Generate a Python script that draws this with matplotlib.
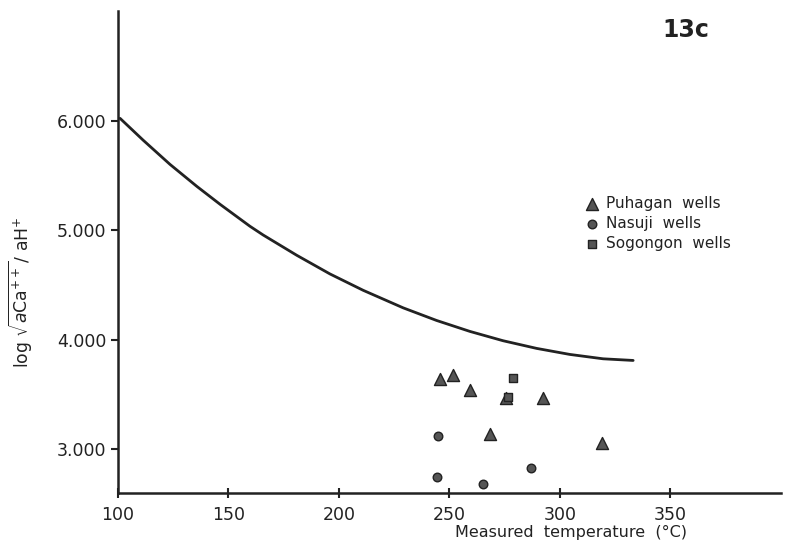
import matplotlib
matplotlib.use("Agg")
import matplotlib.pyplot as plt

# Equilibrium curve
curve_t = [100.9, 111.4, 123.5, 135.6, 146.2, 159.7, 165.7, 180.9, 195.9, 211.0,
           229.1, 244.2, 259.3, 274.3, 289.5, 304.5, 319.6, 333.2]
curve_y = [6.02, 5.82, 5.60, 5.40, 5.235, 5.035, 4.955, 4.77, 4.60, 4.45,
           4.29, 4.175, 4.075, 3.99, 3.92, 3.865, 3.825, 3.81]

# Wells
puhagan_t = [245.7, 251.6, 259.3, 268.3, 275.6, 292.3, 319.0]
puhagan_y = [3.64, 3.68, 3.54, 3.14, 3.47, 3.47, 3.06]
nasuji_t = [244.8, 244.3, 265.2, 286.9]
nasuji_y = [3.12, 2.75, 2.68, 2.83]
sogongon_t = [278.7, 276.5]
sogongon_y = [3.65, 3.48]

xticks = [100, 150, 200, 250, 300, 350]
yticks = [3.0, 4.0, 5.0, 6.0]
ytick_labels = ["3.000", "4.000", "5.000", "6.000"]

plt.rcParams['font.family'] = ['DejaVu Sans']
fig = plt.figure(figsize=(7.87, 5.49), dpi=100)
ax = fig.add_axes([0.150, 0.102, 0.842, 0.878])

ax.plot(curve_t, curve_y, color='#222222', lw=2.0, solid_capstyle='round',
        solid_joinstyle='round')

mc = '#555555'
ec = '#222222'
h1 = ax.scatter(puhagan_t, puhagan_y, marker='^', s=75, facecolor=mc, edgecolor=ec, linewidths=1.0, zorder=3, label='Puhagan  wells')
h2 = ax.scatter(nasuji_t, nasuji_y, marker='o', s=38, facecolor=mc, edgecolor=ec, linewidths=1.0, zorder=3, label='Nasuji  wells')
h3 = ax.scatter(sogongon_t, sogongon_y, marker='s', s=40, facecolor=mc, edgecolor=ec, linewidths=1.0, zorder=3, label='Sogongon  wells')

ax.set_xlim(100, 400)
ax.set_ylim(2.6, 7.0)
ax.set_xticks(xticks)
ax.set_xticklabels([str(t) for t in xticks])
ax.set_yticks(yticks)
ax.set_yticklabels(ytick_labels)
for s in ['top', 'right']:
    ax.spines[s].set_visible(False)
for s in ['left', 'bottom']:
    ax.spines[s].set_linewidth(1.8)
    ax.spines[s].set_color('#222222')
ax.tick_params(axis='both', direction='out', length=5, width=1.5, colors='#222222', labelsize=12.5, labelcolor='#222222')
ax.tick_params(axis='x', direction='inout', length=7, pad=6)

ax.set_ylabel(r'log $\sqrt{a\mathrm{Ca}^{++}}$/ aH$^{+}$', fontsize=12.4, color='#222222')
ax.yaxis.set_label_coords(-0.125, 0.417)
fig.text(0.725, 0.03, 'Measured  temperature  (°C)', fontsize=11.5, ha='center', va='center', color='#222222')
fig.text(0.872, 0.945, '13c', fontsize=17, fontweight='bold', ha='center', va='center', color='#222222')

leg = fig.legend(handles=[h1, h2, h3], loc='upper left', bbox_to_anchor=(0.735, 0.655),
                 frameon=False, fontsize=11, handletextpad=0.4, labelspacing=0.35,
                 handlelength=1.0, borderaxespad=0)
for t in leg.get_texts():
    t.set_color('#222222')

fig.savefig('out.png', dpi=100)
